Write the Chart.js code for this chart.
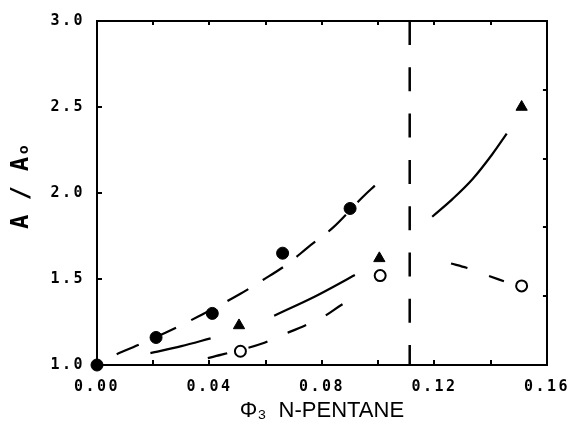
<!DOCTYPE html>
<html>
<head>
<meta charset="utf-8">
<script src="https://cdn.jsdelivr.net/npm/chart.js@4"></script>
<style>
  html, body { margin: 0; padding: 0; background: #fff; }
  #wrap { width: 578px; height: 424px; }
</style>
</head>
<body>
<div id="wrap"><canvas id="c" width="578" height="424"></canvas></div>
<script>
/* ---- data ---- */
// measured points
const filledX = [0.000, 0.021, 0.041, 0.066, 0.090];
const filledY = [1.00, 1.16, 1.30, 1.65, 1.91];
const triX    = [0.0505, 0.1004, 0.151];
const triY    = [1.23, 1.62, 2.50];
const openX   = [0.051, 0.1007, 0.151];
const openY   = [1.08, 1.52, 1.46];

// hand-drawn fit curves
const fitFilledX = [0.007, 0.016, 0.029, 0.036, 0.051, 0.059, 0.068, 0.075, 0.084, 0.0945, 0.099];
const fitFilledY = [1.063, 1.126, 1.224, 1.282, 1.414, 1.494, 1.59, 1.684, 1.80, 1.977, 2.046];
const fitTriX    = [0.019, 0.030, 0.0404, 0.050, 0.063, 0.0777, 0.0917];
const fitTriY    = [1.069, 1.11, 1.155, null, 1.287, 1.40, 1.523];
const fitOpenX   = [0.0394, 0.045, 0.059, 0.0655, 0.074, 0.0805, 0.087, 0.0938];
const fitOpenY   = [1.04, 1.063, 1.126, 1.172, 1.23, 1.28, 1.35, 1.414];
const fitTri2X   = [0.1192, 0.1265, 0.1335, 0.1405, 0.1457];
const fitTri2Y   = [1.862, 1.966, 2.08, 2.224, 2.345];
const fitOpen2X  = [0.1259, 0.1314, 0.139, 0.1447];
const fitOpen2Y  = [1.59, 1.565, 1.52, 1.487];

// phase boundary
const boundaryX = [0.1112, 0.1112];
const boundaryY = [3.0, 1.0];

// axes
const xMin = 0, xMax = 0.16, xStep = 0.02;
const yMin = 1.0, yMax = 3.0, yStep = 0.5, yRightStep = 0.4;
const xTitle = 'Φ₃  N-PENTANE';
const yTitle = ' A / Aₒ';

const pts = (xs, ys) => xs.map((x, i) => ({ x, y: ys[i] }));

const INK = '#000';

const markerSet = (data, style, radius, filled) => ({
  data, showLine: false, pointStyle: style, pointRadius: radius, pointHoverRadius: radius,
  pointBackgroundColor: filled ? INK : '#fff', pointBorderColor: INK,
  pointBorderWidth: filled ? 1 : 2, clip: false,
});
const curveSet = (data, dash, width = 2.2) => ({
  data, showLine: true, pointRadius: 0, borderColor: INK, borderWidth: width,
  borderDash: dash, cubicInterpolationMode: 'monotone', spanGaps: false, fill: false, clip: false,
});

// titles drawn plain, tick labels (z: 1, drawn after datasets) spread out like plotter text;
// plus inward tick marks on all four sides
const plotterLook = {
  id: 'plotterLook',
  beforeDraw(chart) { chart.ctx.letterSpacing = '0px'; },
  afterDatasetsDraw(chart) { chart.ctx.letterSpacing = '2.5px'; },
  afterDraw(chart) {
    const { ctx, chartArea: a, scales } = chart;
    ctx.save();
    ctx.letterSpacing = '0px';
    ctx.strokeStyle = INK;
    ctx.lineWidth = 2;
    ctx.beginPath();
    const side = (scale, len, horiz, edge) => {
      scale.ticks.forEach(t => {
        const p = Math.round(scale.getPixelForValue(t.value));
        if (horiz) {
          if (p <= a.left + 2 || p >= a.right - 2) return;
          ctx.moveTo(p, edge); ctx.lineTo(p, edge + len);
        } else {
          if (p <= a.top + 2 || p >= a.bottom - 2) return;
          ctx.moveTo(edge, p); ctx.lineTo(edge + len, p);
        }
      });
    };
    side(scales.x, -5, true, a.bottom);
    side(scales.xTop, 4, true, a.top);
    side(scales.y, 5, false, a.left);
    side(scales.yRight, -4, false, a.right);
    ctx.stroke();
    ctx.restore();
  }
};

const tickFont = { family: "'DejaVu Sans Mono'", size: 15, weight: 'bold' };

new Chart(document.getElementById('c'), {
  type: 'scatter',
  data: {
    datasets: [
      markerSet(pts(filledX, filledY), 'circle', 6, true),
      markerSet(pts(triX, triY), 'triangle', 6.5, true),
      markerSet(pts(openX, openY), 'circle', 5.5, false),
      curveSet(pts(fitFilledX, fitFilledY), [24, 17]),
      curveSet(pts(fitTriX, fitTriY), []),
      curveSet(pts(fitOpenX, fitOpenY), [20, 22]),
      curveSet(pts(fitTri2X, fitTri2Y), []),
      curveSet(pts(fitOpen2X, fitOpen2Y), [17, 23]),
      { ...curveSet(pts(boundaryX, boundaryY), [24, 22.3], 2.5), cubicInterpolationMode: 'default', tension: 0 },
    ]
  },
  options: {
    responsive: false,
    animation: false,
    events: [],
    layout: { padding: 0 },
    plugins: { legend: { display: false }, tooltip: { enabled: false } },
    scales: {
      x: {
        type: 'linear', position: 'bottom', min: xMin, max: xMax,
        afterFit: s => { s.height = 59; },
        grid: { display: false, drawTicks: false },
        border: { display: true, color: INK, width: 2 },
        ticks: {
          z: 1, stepSize: xStep, padding: 13, color: INK, font: tickFont, maxRotation: 0, autoSkip: false,
          callback: (v, i) => (i % 2 === 0 ? v.toFixed(2) : '')
        },
        title: { display: true, text: xTitle, color: INK, padding: { top: 0, bottom: 0 },
                 font: { family: "'Liberation Sans'", size: 22 } }
      },
      xTop: {
        type: 'linear', position: 'top', min: xMin, max: xMax,
        afterFit: s => { s.height = 17; },
        grid: { display: false, drawTicks: false },
        border: { display: true, color: INK, width: 2 },
        ticks: { stepSize: xStep, display: false }
      },
      y: {
        type: 'linear', position: 'left', min: yMin, max: yMax,
        afterFit: s => { s.width = 97; },
        grid: { display: false, drawTicks: false },
        border: { display: true, color: INK, width: 2 },
        ticks: { z: 1, stepSize: yStep, padding: 12, color: INK, font: tickFont, callback: v => v.toFixed(1) },
        title: { display: true, text: yTitle, color: INK, padding: { top: 7, bottom: 0 },
                 font: { family: "'DejaVu Sans Mono'", size: 24, weight: 'bold' } }
      },
      yRight: {
        type: 'linear', position: 'right', min: yMin, max: yMax,
        afterFit: s => { s.width = 22; },
        grid: { display: false, drawTicks: false },
        border: { display: true, color: INK, width: 2 },
        ticks: { stepSize: yRightStep, display: false }
      }
    }
  },
  plugins: [plotterLook]
});
</script>
</body>
</html>
